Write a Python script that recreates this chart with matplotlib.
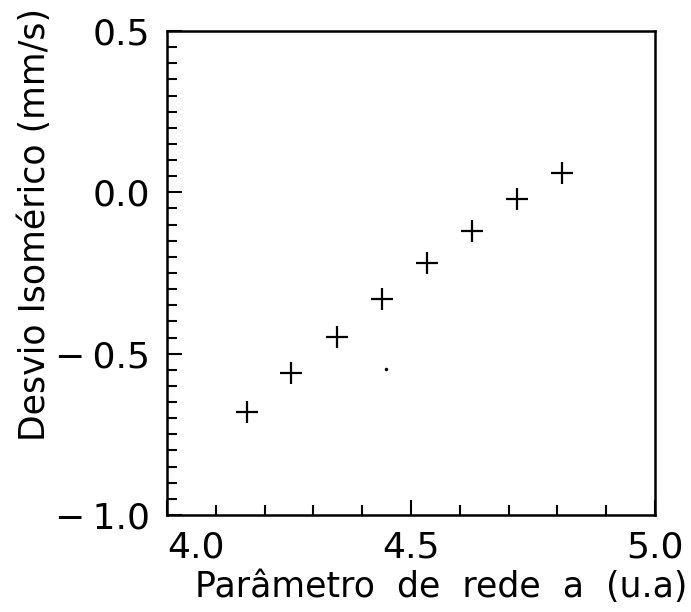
import matplotlib.pyplot as plt
from matplotlib.ticker import MultipleLocator

# data
lattice_a = [4.163, 4.255, 4.348, 4.440, 4.533, 4.624, 4.717, 4.809]
iso_shift = [-0.680, -0.560, -0.448, -0.331, -0.219, -0.120, -0.020, 0.061]
speck_x = [4.448]
speck_y = [-0.549]

xticks = [4.0, 4.5, 5.0]
xtick_labels = ['4.0', '4.5', '5.0']
yticks = [-1.0, -0.5, 0.0, 0.5]
ytick_labels = ['\u2212\u20091.0', '\u2212\u20090.5', '0.0', '0.5']

plt.rcParams['font.family'] = ['DejaVu Sans']

fig = plt.figure(figsize=(6.91, 6.12), dpi=100)
ax = fig.add_axes([167/691, 1 - 515/612, 488/691, 484/612])

ax.plot(lattice_a, iso_shift, linestyle='none', marker='+', markersize=16,
        markeredgewidth=1.6, color='black')
ax.plot(speck_x, speck_y, linestyle='none', marker='o', markersize=1.5,
        color='black')

ax.set_xlim(4.0, 5.0)
ax.set_ylim(-1.0, 0.5)

ax.set_xticks(xticks)
ax.set_xticklabels(xtick_labels)
ax.set_yticks(yticks)
ax.set_yticklabels(ytick_labels)
ax.xaxis.set_minor_locator(MultipleLocator(0.1))
ax.yaxis.set_minor_locator(MultipleLocator(0.05))

ax.tick_params(which='both', direction='in', top=False, right=False,
               width=1.5, labelsize=26, colors='black')
ax.tick_params(axis='x', which='major', length=11, pad=11)
ax.tick_params(axis='x', which='minor', length=7)
ax.tick_params(axis='y', which='major', length=11, pad=12)
ax.tick_params(axis='y', which='minor', length=7)

ax.get_xticklabels()[0].set_horizontalalignment('left')

for sp in ax.spines.values():
    sp.set_linewidth(1.8)

ax.set_xlabel('Parâmetro  de  rede  a  (u.a)', fontsize=25)
ax.set_ylabel('Desvio Isomérico (mm/s)', fontsize=25)
ax.xaxis.set_label_coords(0.562, -0.113)
ax.yaxis.set_label_coords(-0.235, 0.60)

plt.savefig('out.png', dpi=100)
